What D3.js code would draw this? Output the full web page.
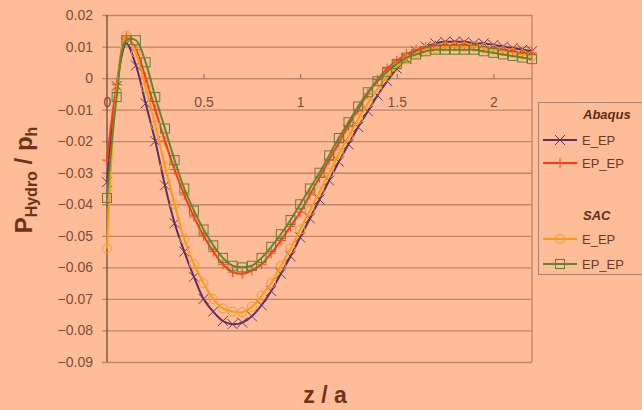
<!DOCTYPE html>
<html>
<head>
<meta charset="utf-8">
<script src="https://cdn.jsdelivr.net/npm/d3@7"></script>
<style>
  html, body { margin: 0; padding: 0; background: #FFBC98; }
  svg { display: block; font-family: Arial, "Liberation Sans", sans-serif; }
</style>
</head>
<body>
<svg id="chart" width="642" height="410"></svg>
<script>
// Normalised depth z / a at which each profile is sampled
const zValues = [0, 0.05, 0.10, 0.15, 0.20, 0.25, 0.30, 0.35, 0.40, 0.45,
  0.50, 0.55, 0.60, 0.65, 0.70, 0.75, 0.80, 0.85, 0.90, 0.95,
  1.00, 1.05, 1.10, 1.15, 1.20, 1.25, 1.30, 1.35, 1.40, 1.45,
  1.50, 1.55, 1.60, 1.65, 1.70, 1.75, 1.80, 1.85, 1.90, 1.95,
  2.00, 2.05, 2.10, 2.15, 2.20];

// Abaqus, elastic / elastic-plastic
const abaqusE_EP = [-0.033, -0.0025, 0.011, 0.004, -0.008, -0.020, -0.034, -0.046, -0.055, -0.063,
  -0.070, -0.074, -0.077, -0.078, -0.0775, -0.0755, -0.072, -0.0675, -0.062, -0.0565,
  -0.0505, -0.0445, -0.0385, -0.0325, -0.0265, -0.021, -0.0155, -0.0105, -0.0055, -0.001,
  0.003, 0.006, 0.0085, 0.010, 0.011, 0.0115, 0.0115, 0.0115, 0.011, 0.011,
  0.0105, 0.010, 0.0095, 0.009, 0.0085];

// Abaqus, elastic-plastic / elastic-plastic
const abaqusEP_EP = [-0.026, -0.002, 0.013, 0.009, 0.000, -0.010, -0.020, -0.029, -0.037, -0.044,
  -0.050, -0.055, -0.059, -0.0615, -0.062, -0.061, -0.059, -0.0555, -0.0515, -0.047,
  -0.0425, -0.037, -0.0315, -0.026, -0.0205, -0.015, -0.010, -0.005, -0.0005, 0.003,
  0.0055, 0.0075, 0.009, 0.0098, 0.0103, 0.0105, 0.0105, 0.0105, 0.010, 0.0098,
  0.0095, 0.009, 0.0085, 0.008, 0.008];

// SAC, elastic / elastic-plastic
const sacE_EP = [-0.054, -0.004, 0.0135, 0.008, -0.003, -0.015, -0.028, -0.040, -0.051, -0.059,
  -0.065, -0.070, -0.073, -0.074, -0.0742, -0.0725, -0.069, -0.065, -0.0595, -0.054,
  -0.048, -0.042, -0.036, -0.030, -0.024, -0.0185, -0.013, -0.008, -0.0035, 0.0005,
  0.0035, 0.006, 0.008, 0.009, 0.0095, 0.010, 0.010, 0.010, 0.010, 0.0095,
  0.009, 0.0085, 0.008, 0.0075, 0.007];

// SAC, elastic-plastic / elastic-plastic
const sacEP_EP = [-0.038, -0.006, 0.012, 0.012, 0.005, -0.006, -0.016, -0.026, -0.035, -0.042,
  -0.048, -0.053, -0.057, -0.0595, -0.060, -0.0595, -0.057, -0.0535, -0.0495, -0.045,
  -0.040, -0.035, -0.030, -0.0245, -0.019, -0.014, -0.009, -0.0045, -0.001, 0.002,
  0.0045, 0.0065, 0.0075, 0.0085, 0.009, 0.009, 0.009, 0.009, 0.009, 0.0085,
  0.008, 0.0075, 0.007, 0.0065, 0.006];

const xTicks = [0, 0.5, 1, 1.5, 2];
const yTicks = [0.02, 0.01, 0, -0.01, -0.02, -0.03, -0.04, -0.05, -0.06, -0.07, -0.08, -0.09];

const series = [
  { group: "Abaqus", name: "E_EP", values: abaqusE_EP, line: "#5E2D68", mark: "#6A3A5A", shape: "x" },
  { group: "Abaqus", name: "EP_EP", values: abaqusEP_EP, line: "#FF3A10", mark: "#F04A20", shape: "plus" },
  { group: "SAC", name: "E_EP", values: sacE_EP, line: "#FF9A10", mark: "#F39A30", shape: "circle" },
  { group: "SAC", name: "EP_EP", values: sacEP_EP, line: "#5A8A30", mark: "#6E7A30", shape: "square" }
];

const svg = d3.select("#chart");
const plotLeft = 107, plotRight = 532, plotTop = 15, plotBottom = 362;

const x = d3.scaleLinear().domain([0, 2.2]).range([plotLeft, plotRight]);
const y = d3.scaleLinear().domain([-0.09, 0.02]).range([plotBottom, plotTop]);

const gridColor = "#BE8467";
const textColor = "#7A4E3A";

// horizontal gridlines with short outward ticks on the value axis
const yAxis = d3.axisLeft(y).tickValues(yTicks).tickSize(-(plotRight - plotLeft)).tickPadding(14)
  .tickFormat(d => d === 0 ? "0" : d3.format(".2f")(d));
const gy = svg.append("g").attr("transform", `translate(${plotLeft},0)`).call(yAxis);
gy.select(".domain").remove();
gy.selectAll(".tick line").attr("stroke", gridColor).attr("stroke-width", 1.3).attr("x1", -5);
gy.selectAll(".tick text").attr("fill", textColor).attr("font-size", 14).attr("x", -14);

// plot border (right) and value axis line
svg.append("line").attr("x1", plotRight).attr("x2", plotRight).attr("y1", plotTop).attr("y2", plotBottom)
  .attr("stroke", gridColor).attr("stroke-width", 1.3);
svg.append("line").attr("x1", plotLeft).attr("x2", plotLeft).attr("y1", plotTop).attr("y2", plotBottom)
  .attr("stroke", "#6E4A3A").attr("stroke-width", 1.3);

// category axis crossing at zero, labels just below it
const xAxis = d3.axisBottom(x).tickValues(xTicks).tickSize(0).tickPadding(19)
  .tickFormat(d => String(d));
const gx = svg.append("g").attr("transform", `translate(0,${y(0)})`).call(xAxis);
gx.select(".domain").attr("stroke", gridColor).attr("stroke-width", 1.3);
gx.selectAll(".tick text").attr("fill", textColor).attr("font-size", 14);
gx.selectAll(".tick").append("line").attr("y1", -4).attr("y2", 0)
  .attr("stroke", "#8A6050").attr("stroke-width", 1);

// curves
const lineGen = d3.line()
  .x((d, i) => x(zValues[i]))
  .y(d => y(d))
  .curve(d3.curveCatmullRom.alpha(0.5));

function drawMarker(g, shape, color, cx, cy) {
  if (shape === "x") {
    g.append("path").attr("d", `M${cx - 5},${cy - 5}L${cx + 5},${cy + 5}M${cx - 5},${cy + 5}L${cx + 5},${cy - 5}`)
      .attr("stroke", color).attr("stroke-width", 1).attr("fill", "none");
  } else if (shape === "plus") {
    g.append("path").attr("d", `M${cx},${cy - 5}V${cy + 5}M${cx - 5},${cy}H${cx + 5}`)
      .attr("stroke", color).attr("stroke-width", 1).attr("fill", "none");
  } else if (shape === "circle") {
    g.append("circle").attr("cx", cx).attr("cy", cy).attr("r", 4.5)
      .attr("stroke", color).attr("stroke-width", 1).attr("fill", "none");
  } else {
    g.append("rect").attr("x", cx - 4.5).attr("y", cy - 4.5).attr("width", 9).attr("height", 9)
      .attr("stroke", color).attr("stroke-width", 1).attr("fill", "none");
  }
}

series.forEach(s => {
  const g = svg.append("g");
  g.append("path").attr("d", lineGen(s.values)).attr("fill", "none")
    .attr("stroke", s.line).attr("stroke-width", 2);
  s.values.forEach((v, i) => drawMarker(g, s.shape, s.mark, x(zValues[i]), y(v)));
});

// axis titles
const titleColor = "#6B3416";
svg.append("text").attr("x", 325).attr("y", 403).attr("text-anchor", "middle")
  .attr("font-size", 23).attr("font-weight", "bold").attr("fill", titleColor).text("z / a");

const yt = svg.append("text").attr("transform", "translate(32,180) rotate(-90)")
  .attr("text-anchor", "middle").attr("font-size", 24).attr("font-weight", "bold").attr("fill", titleColor);
yt.append("tspan").text("P");
yt.append("tspan").attr("font-size", 16).attr("dy", 5).text("Hydro");
yt.append("tspan").attr("dy", -5).text(" / p");
yt.append("tspan").attr("font-size", 16).attr("dy", 5).text("h");

// legend
const legend = svg.append("g");
legend.append("rect").attr("x", 538.5).attr("y", 102.5).attr("width", 110).attr("height", 172)
  .attr("fill", "none").attr("stroke", "#A7826E").attr("stroke-width", 1);
const groups = [{ label: "Abaqus", y: 114 }, { label: "SAC", y: 215 }];
const entryY = [140, 163, 239, 264];
groups.forEach(gr => {
  legend.append("text").attr("x", 583).attr("y", gr.y).attr("dy", "0.35em")
    .attr("font-size", 13).attr("font-weight", "bold").attr("font-style", "italic")
    .attr("fill", "#5A2E18").text(gr.label);
});
series.forEach((s, i) => {
  const ly = entryY[i];
  legend.append("line").attr("x1", 543).attr("x2", 577).attr("y1", ly).attr("y2", ly)
    .attr("stroke", s.line).attr("stroke-width", 2);
  drawMarker(legend, s.shape, s.mark, 560, ly);
  legend.append("text").attr("x", 582).attr("y", ly).attr("dy", "0.35em")
    .attr("font-size", 13).attr("fill", "#6A3A22").text(s.name);
});
</script>
</body>
</html>
